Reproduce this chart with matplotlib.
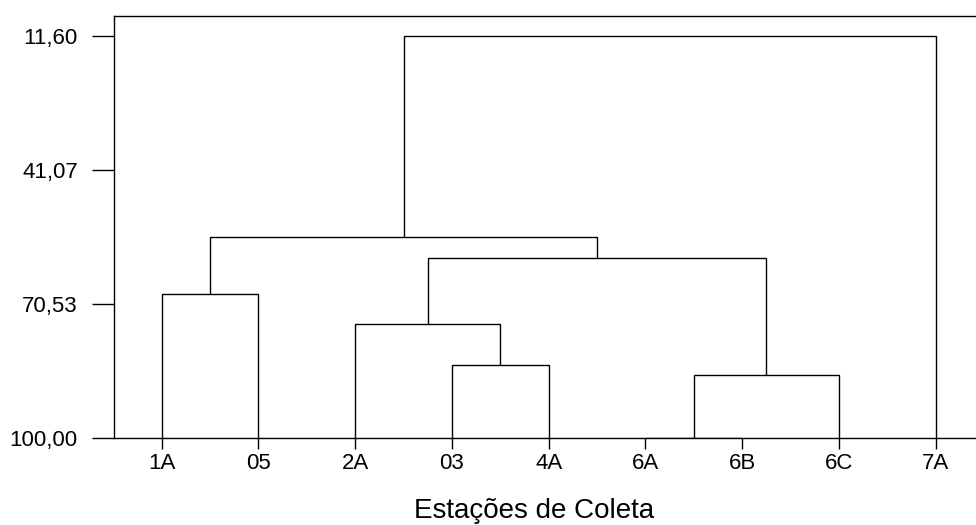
import matplotlib
matplotlib.use("Agg")
import matplotlib.pyplot as plt

# leaves of the dendrogram (left to right)
leaf_labels = ["1A", "05", "2A", "03", "4A", "6A", "6B", "6C", "7A"]

# merges, scipy-linkage style: clusters 0..8 are leaves, each merge makes a new id
merge_left = [0, 3, 5, 11, 2, 13, 9, 15]
merge_right = [1, 4, 6, 7, 10, 12, 14, 8]
merge_similarity = [68.3, 83.9, 100.0, 86.2, 75.0, 60.4, 55.8, 11.6]

# y axis ticks (similarity)
y_ticks = [11.60, 41.07, 70.53, 100.00]

plt.rcParams['font.family'] = ['Liberation Sans', 'DejaVu Sans']

fig = plt.figure(figsize=(9.76, 5.25), dpi=100)
ax = fig.add_axes([0.1165, 0.1657, 0.8835, 0.8038])

# x position and height of every node (leaves sit on the 100 line)
node_x = {i: i + 1 for i in range(len(leaf_labels))}
node_y = {i: 100.0 for i in range(len(leaf_labels))}

for k, (a, b, s) in enumerate(zip(merge_left, merge_right, merge_similarity)):
    new_id = len(leaf_labels) + k
    xa, xb = node_x[a], node_x[b]
    ya, yb = node_y[a], node_y[b]
    ax.plot([xa, xa, xb, xb], [ya, s, s, yb], color='black', lw=1.0,
            solid_capstyle='butt', solid_joinstyle='miter')
    node_x[new_id] = (xa + xb) / 2
    node_y[new_id] = s

ax.set_xlim(0.504, 9.417)
ax.set_ylim(100, 7.2)

ax.set_xticks(range(1, len(leaf_labels) + 1))
ax.set_xticklabels(leaf_labels)
ax.set_yticks(y_ticks)
ax.set_yticklabels([f"{v:.2f}".replace('.', ',') for v in y_ticks])

ax.tick_params(axis='y', direction='out', length=15.8, width=1.0, pad=10,
               labelsize=16, color='black')
ax.tick_params(axis='x', direction='out', length=8, width=1.0, pad=3,
               labelsize=16, color='black')

for side in ['left', 'top', 'bottom']:
    ax.spines[side].set_linewidth(1.0)
    ax.spines[side].set_color('black')
ax.spines['right'].set_visible(False)

ax.set_xlabel("Estações de Coleta", fontsize=20)
ax.xaxis.set_label_coords(0.488, -0.142)

fig.savefig("out.png", dpi=100)
